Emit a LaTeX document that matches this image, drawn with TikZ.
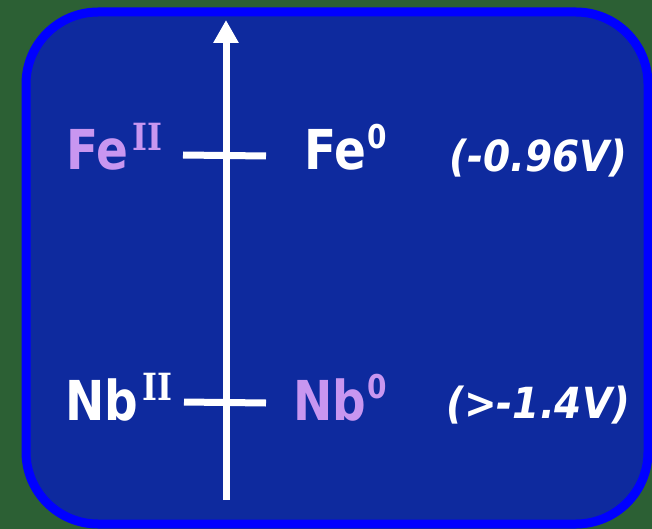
\documentclass[tikz,border=0pt]{standalone}
\usepackage{fontspec}
\usepackage{graphicx}
\setmainfont{DejaVu Sans}
\newfontfamily\supfont{DejaVu Serif}
\usetikzlibrary{arrows.meta}
\definecolor{bggreen}{RGB}{44,96,52}
\definecolor{panelblue}{RGB}{14,42,158}
\definecolor{rimblue}{RGB}{0,0,255}
\definecolor{lav}{RGB}{200,150,240}
\tikzset{
  lbl/.style={anchor=base west, inner sep=0pt, font=\bfseries\fontsize{47}{50}\selectfont},
  volt/.style={anchor=base west, inner sep=0pt, text=white, font=\bfseries\itshape\fontsize{39}{42}\selectfont},
  axis/.style={white, line width=7pt, -{Triangle[width=24pt,length=23pt]}},
  tick/.style={white, line width=7pt}
}
\newcommand{\tall}[1]{\scalebox{1}[1.17]{#1}}
\newcommand{\romsup}[1]{\kern4pt\raisebox{17pt}{\supfont\bfseries\fontsize{32}{33}\selectfont #1}}
\newcommand{\numsup}[1]{\kern1pt\raisebox{18pt}{\bfseries\fontsize{28}{30}\selectfont #1}}
\begin{document}
\begin{tikzpicture}[x=1pt,y=-1pt]
\useasboundingbox (0,0) rectangle (652,529);
\fill[bggreen] (0,0) rectangle (652,529);
\filldraw[fill=panelblue, draw=rimblue, line width=9pt, rounded corners=72pt] (26,12) rectangle (648,524);
\coordinate (abot) at (226,500);
\coordinate (atop) at (226,20);
\draw[axis] (abot) -- (atop);
\coordinate (fel) at (183,155);
\coordinate (fer) at (266,156);
\coordinate (nbl) at (184,402);
\coordinate (nbr) at (266,403);
\draw[tick] (fel) -- (fer);
\draw[tick] (nbl) -- (nbr);
\node[lbl, text=lav] (feii) at (66,170) {\tall{Fe\romsup{II}}};
\node[lbl, text=white] (fe0) at (304,170) {\tall{Fe\numsup{0}}};
\node[volt] (fev) at (449,172) {\scalebox{1}[1.1]{(-0.96V)}};
\node[lbl, text=white] (nbii) at (65,420) {\tall{Nb\romsup{II}}};
\node[lbl, text=lav] (nb0) at (293,420) {\tall{Nb\numsup{0}}};
\node[volt] (nbv) at (446,418) {\scalebox{1}[1.1]{(>-1.4V)}};
\end{tikzpicture}
\end{document}
